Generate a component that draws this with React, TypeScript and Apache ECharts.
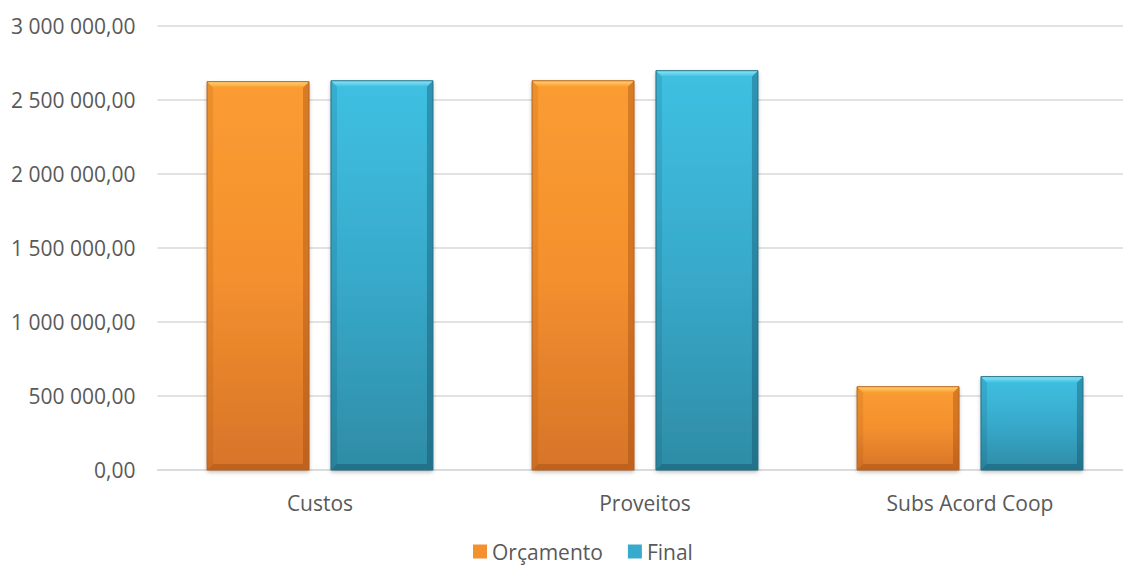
import React, { useEffect, useRef } from "react";
import * as echarts from "echarts";

const categories = ["Custos", "Proveitos", "Subs Acord Coop"];
const orcamento = [2621000, 2627000, 562000];
const final = [2627000, 2695000, 630000];
const seriesNames = ["Orçamento", "Final"];

const FONT = "'Open Sans', sans-serif";
const CAT_GAP = 0.305;
const BAR_GAP = 0.215;
const BEVEL = 6;

function fmt(v: number): string {
  const [i, d] = v.toFixed(2).split(".");
  return i.replace(/\B(?=(\d{3})+(?!\d))/g, " ") + "," + d;
}

const palettes = [
  {
    top: "#FA9C31",
    mid: "#F4902E",
    bottom: "#D6742A",
    light: "#FFD46E",
    dark: "rgba(140,60,10,0.32)",
    side: "rgba(150,70,10,0.14)",
    border: "#B8621F",
  },
  {
    top: "#3FC0E2",
    mid: "#38AACB",
    bottom: "#2E8CA6",
    light: "#8BE6F7",
    dark: "rgba(10,60,80,0.32)",
    side: "rgba(10,70,90,0.14)",
    border: "#236F86",
  },
];

function makeRender(k: number) {
  const p = palettes[k];
  return (params: any, api: any) => {
    const idx = api.value(0);
    const val = api.value(1);
    const band = api.size([1, 0])[0];
    const w = (band * (1 - CAT_GAP)) / (2 + BAR_GAP);
    const center = api.coord([idx, 0])[0];
    const start = center - (w * (2 + BAR_GAP)) / 2;
    const x0 = start + k * w * (1 + BAR_GAP);
    const x1 = x0 + w;
    const y0 = api.coord([idx, val])[1];
    const y1 = api.coord([idx, 0])[1];
    const b = Math.min(BEVEL, (y1 - y0) / 2);
    const grad = new echarts.graphic.LinearGradient(0, 0, 0, 1, [
      { offset: 0, color: p.top },
      { offset: 0.5, color: p.mid },
      { offset: 1, color: p.bottom },
    ]);
    const lightGrad = new echarts.graphic.LinearGradient(0, 0, 0, 1, [
      { offset: 0, color: p.light },
      { offset: 1, color: p.top },
    ]);
    return {
      type: "group",
      children: [
        {
          type: "rect",
          shape: { x: x0, y: y0, width: w, height: y1 - y0 },
          style: {
            fill: grad,
            shadowColor: "rgba(0,0,0,0.28)",
            shadowBlur: 4,
            shadowOffsetY: 2,
          },
        },
        {
          type: "polygon",
          shape: { points: [[x0, y0], [x1, y0], [x1 - b, y0 + b], [x0 + b, y0 + b]] },
          style: { fill: lightGrad },
        },
        {
          type: "polygon",
          shape: { points: [[x1, y0], [x1, y1], [x1 - b, y1 - b], [x1 - b, y0 + b]] },
          style: { fill: p.dark },
        },
        {
          type: "polygon",
          shape: { points: [[x0, y1], [x1, y1], [x1 - b, y1 - b], [x0 + b, y1 - b]] },
          style: { fill: p.dark },
        },
        {
          type: "polygon",
          shape: { points: [[x0, y0], [x0, y1], [x0 + b, y1 - b], [x0 + b, y0 + b]] },
          style: { fill: p.side },
        },
        {
          type: "rect",
          shape: { x: x0, y: y0, width: w, height: y1 - y0 },
          style: { fill: "none", stroke: p.border, lineWidth: 1 },
        },
      ],
    };
  };
}

export default function App() {
  const ref = useRef<HTMLDivElement>(null);
  useEffect(() => {
    document.body.style.margin = "0";
    document.body.style.overflow = "hidden";
    if (!ref.current) return;
    const chart = echarts.init(ref.current, undefined, { renderer: "svg" });
    const seriesData = [orcamento, final];
    chart.setOption({
      animation: false,
      textStyle: { fontFamily: FONT },
      legend: {
        data: seriesNames,
        top: 536,
        left: 468,
        icon: "rect",
        itemWidth: 14,
        itemHeight: 14,
        itemGap: 25,
        textStyle: { fontFamily: FONT, fontSize: 21, color: "#595959" },
      },
      grid: {
        left: 157.5,
        top: 25.5,
        width: 975,
        height: 444.5,
        containLabel: false,
        outerBoundsMode: "none",
      },
      xAxis: {
        type: "category",
        data: categories,
        axisLine: { lineStyle: { color: "#D9D9D9", width: 1.5 } },
        axisTick: { show: false },
        axisLabel: { fontFamily: FONT, fontSize: 21, color: "#595959", margin: 22 },
      },
      yAxis: {
        type: "value",
        min: 0,
        max: 3000000,
        interval: 500000,
        axisLine: { show: false },
        axisTick: { show: false },
        splitLine: { lineStyle: { color: "#D9D9D9", width: 1.5 } },
        axisLabel: {
          fontFamily: FONT,
          fontSize: 21,
          color: "#595959",
          margin: 22,
          formatter: (v: number) => fmt(v),
        },
      },
      series: seriesNames.map((name, k) => ({
        name,
        type: "custom",
        renderItem: makeRender(k),
        encode: { x: 0, y: 1 },
        itemStyle: { color: palettes[k].mid },
        data: seriesData[k].map((v, i) => [i, v]),
        clip: false,
      })),
    });
    return () => chart.dispose();
  }, []);
  return (
    <div
      ref={ref}
      style={{ position: "absolute", left: 0, top: 0, width: 1123, height: 565 }}
    />
  );
}
